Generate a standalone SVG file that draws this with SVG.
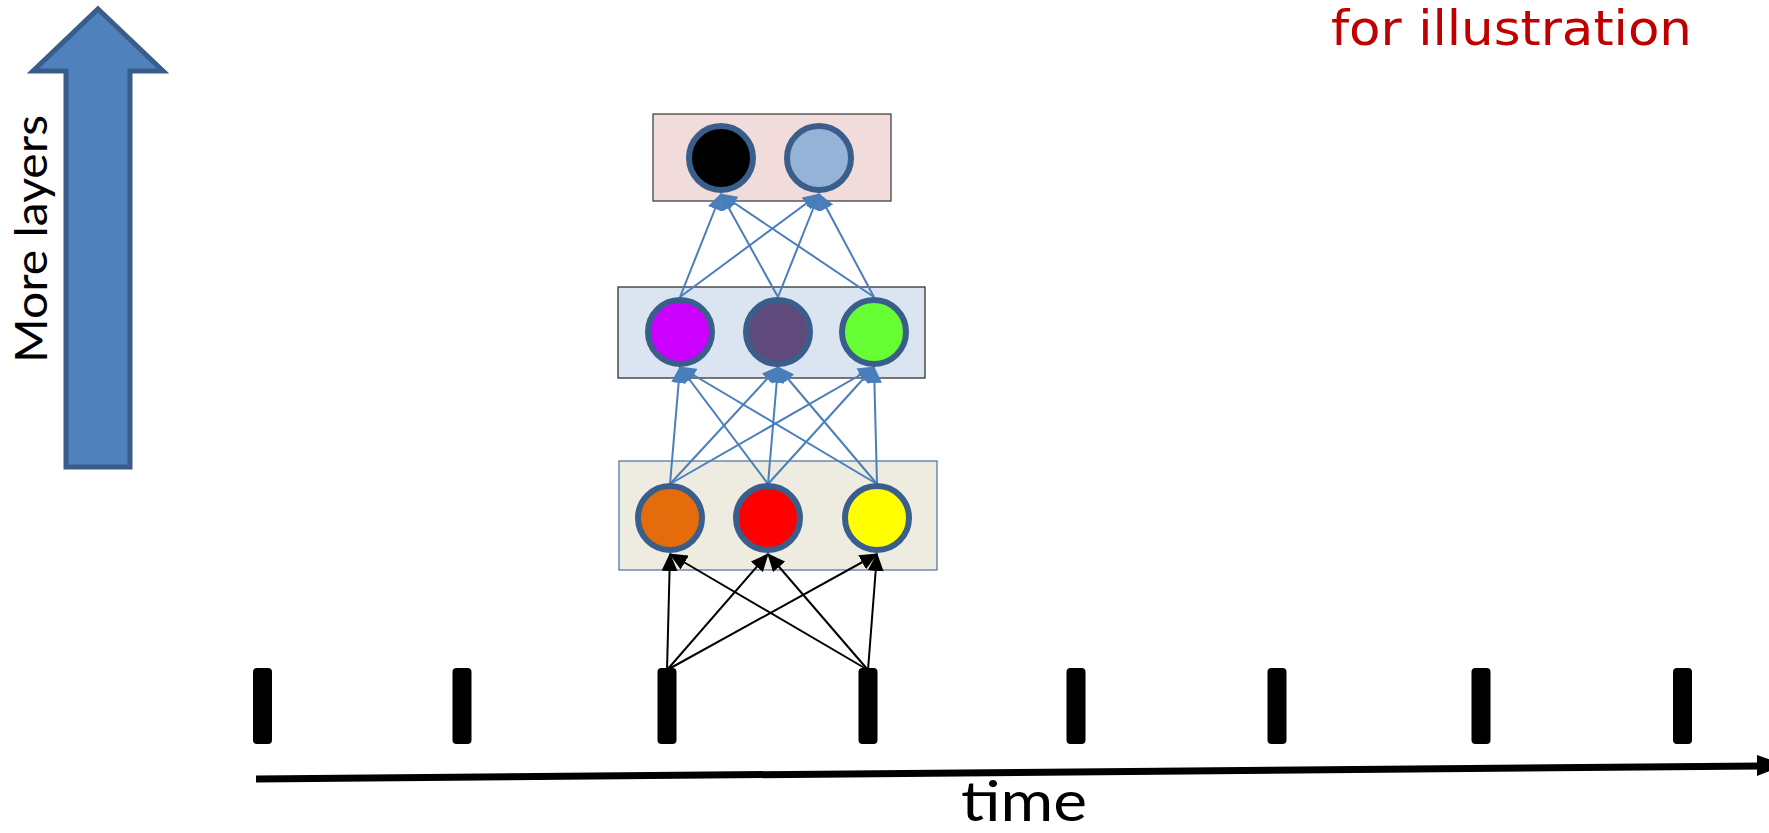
<svg xmlns="http://www.w3.org/2000/svg" width="1769" height="833" viewBox="0 0 1769 833">
<style>
  .node circle { stroke: #3A5E8C; stroke-width: 6; }
  .box { stroke-width: 1.2; }
  .blue { stroke: #4A7EBB; stroke-width: 2; fill: none; marker-end: url(#ab); }
  .black { stroke: #000; stroke-width: 2; fill: none; marker-end: url(#ak); }
  .tick { fill: #000; }
</style>
<defs>
  <marker id="ab" markerUnits="userSpaceOnUse" markerWidth="17" markerHeight="15" refX="16" refY="7.5" orient="auto" viewBox="0 0 17 15">
    <path d="M0,0 L17,7.5 L0,15 z" fill="#4A7EBB"/>
  </marker>
  <marker id="ak" markerUnits="userSpaceOnUse" markerWidth="18" markerHeight="16" refX="17" refY="8" orient="auto" viewBox="0 0 18 16">
    <path d="M0,0 L18,8 L0,16 z" fill="#000"/>
  </marker>
</defs>
<rect width="1769" height="833" fill="#fff"/>

<g id="layers-arrow">
  <polygon points="98,9 163,71 130,71 130,467 66,467 66,71 33,71" fill="#4F81BD" stroke="#385D8A" stroke-width="5" stroke-linejoin="miter"/>
  <text transform="translate(47,363) rotate(-90)" font-family="Lato, 'Liberation Sans', sans-serif" font-size="45" textLength="248" lengthAdjust="spacingAndGlyphs" fill="#000">More layers</text>
</g>

<g id="note">
  <text x="1331" y="45" font-family="'DejaVu Sans', sans-serif" font-size="48" textLength="361" lengthAdjust="spacingAndGlyphs" fill="#C00000">for illustration</text>
</g>

<g id="box-top"><rect class="box" x="653" y="114" width="238" height="87" fill="#F2DCDB" stroke="#333"/></g>
<g id="box-mid"><rect class="box" x="618" y="287" width="307" height="91" fill="#DBE5F1" stroke="#222"/></g>
<g id="box-bottom"><rect class="box" x="619" y="461" width="318" height="109" fill="#EEECE1" stroke="#4A6FA0"/></g>

<g id="connectors">
  <!-- time steps to bottom layer -->
  <line class="black" x1="667" y1="670" x2="670" y2="554"/>
  <line class="black" x1="667" y1="670" x2="768" y2="554"/>
  <line class="black" x1="667" y1="670" x2="877" y2="554"/>
  <line class="black" x1="868" y1="670" x2="670" y2="554"/>
  <line class="black" x1="868" y1="670" x2="768" y2="554"/>
  <line class="black" x1="868" y1="670" x2="877" y2="554"/>
  <!-- bottom layer to middle layer -->
  <line class="blue" x1="670" y1="484" x2="680" y2="367"/>
  <line class="blue" x1="670" y1="484" x2="778" y2="367"/>
  <line class="blue" x1="670" y1="484" x2="874" y2="367"/>
  <line class="blue" x1="768" y1="484" x2="680" y2="367"/>
  <line class="blue" x1="768" y1="484" x2="778" y2="367"/>
  <line class="blue" x1="768" y1="484" x2="874" y2="367"/>
  <line class="blue" x1="877" y1="484" x2="680" y2="367"/>
  <line class="blue" x1="877" y1="484" x2="778" y2="367"/>
  <line class="blue" x1="877" y1="484" x2="874" y2="367"/>
  <!-- middle layer to top layer -->
  <line class="blue" x1="680" y1="297" x2="721" y2="194"/>
  <line class="blue" x1="680" y1="297" x2="819" y2="194"/>
  <line class="blue" x1="778" y1="297" x2="721" y2="194"/>
  <line class="blue" x1="778" y1="297" x2="819" y2="194"/>
  <line class="blue" x1="874" y1="297" x2="721" y2="194"/>
  <line class="blue" x1="874" y1="297" x2="819" y2="194"/>
</g>

<g id="n-black" class="node"><circle cx="721" cy="158" r="32" fill="#000"/></g>
<g id="n-lightblue" class="node"><circle cx="819" cy="158" r="32" fill="#95B3D7"/></g>
<g id="n-magenta" class="node"><circle cx="680" cy="332" r="32" fill="#CC00FF"/></g>
<g id="n-purple" class="node"><circle cx="778" cy="332" r="32" fill="#604A7B"/></g>
<g id="n-green" class="node"><circle cx="874" cy="332" r="32" fill="#66FF33"/></g>
<g id="n-orange" class="node"><circle cx="670" cy="518" r="32" fill="#E46C0A"/></g>
<g id="n-red" class="node"><circle cx="768" cy="518" r="32" fill="#FF0000"/></g>
<g id="n-yellow" class="node"><circle cx="877" cy="518" r="32" fill="#FFFF00"/></g>

<g id="ticks">
  <rect class="tick" x="253" y="668" width="19" height="76" rx="4"/>
  <rect class="tick" x="452.5" y="668" width="19" height="76" rx="4"/>
  <rect class="tick" x="657.5" y="668" width="19" height="76" rx="4"/>
  <rect class="tick" x="858.5" y="668" width="19" height="76" rx="4"/>
  <rect class="tick" x="1066.5" y="668" width="19" height="76" rx="4"/>
  <rect class="tick" x="1267.5" y="668" width="19" height="76" rx="4"/>
  <rect class="tick" x="1471.5" y="668" width="19" height="76" rx="4"/>
  <rect class="tick" x="1673" y="668" width="19" height="76" rx="4"/>
</g>

<g id="time-axis">
  <line x1="256" y1="779" x2="1760" y2="766" stroke="#000" stroke-width="7"/>
  <polygon points="1757,755 1785,765 1757,776" fill="#000"/>
  <text x="1024" y="821" text-anchor="middle" font-family="Lato, 'Liberation Sans', sans-serif" font-size="56" textLength="126" lengthAdjust="spacingAndGlyphs" fill="#000">time</text>
</g>
</svg>
